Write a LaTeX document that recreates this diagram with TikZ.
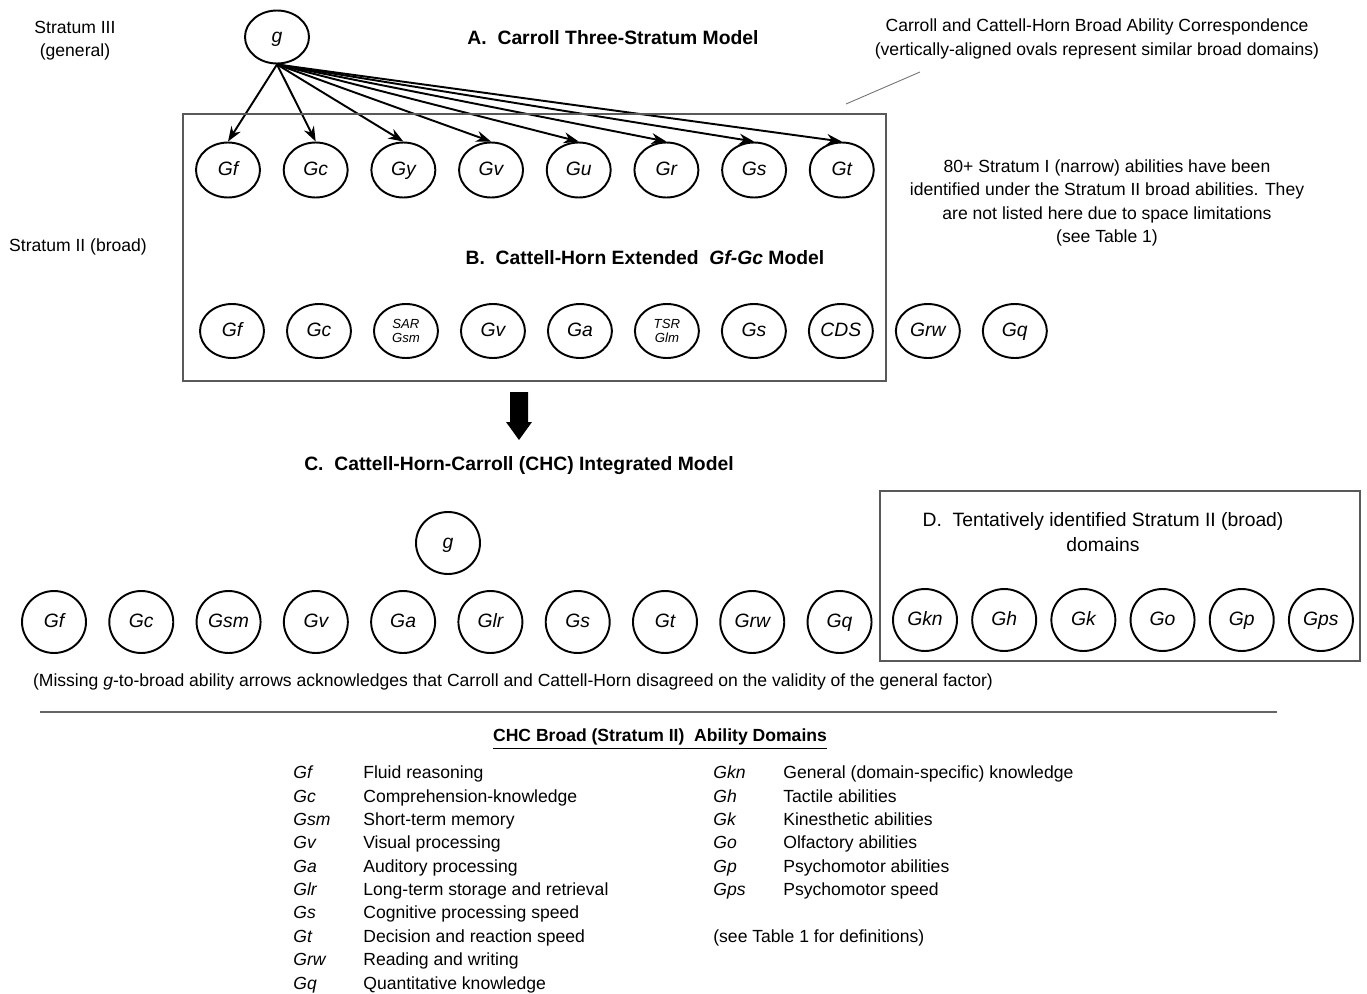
\documentclass[tikz,border=0pt]{standalone}
\usepackage{fontspec}
\setmainfont{Liberation Sans}
\usepackage{tikz}
\usetikzlibrary{arrows.meta,shapes,positioning}
\tikzstyle{ability} = [ellipse, draw, line width=1.1pt, inner sep=0pt,%
	minimum width=1.28cm, minimum height=1.1cm,%
	text height=1.6ex, text depth=0.45ex,%
	font=\itshape\fontsize{11}{13}\selectfont]
\tikzstyle{chcability} = [ability, minimum height=1.24cm]
\tikzstyle{twoline} = [align=center, text height={}, text depth={},%
	font=\itshape\fontsize{7.5}{8}\selectfont]
\tikzstyle{heading} = [font=\bfseries\fontsize{11}{13}\selectfont]
\tikzstyle{note} = [align=center, font=\fontsize{10}{13.2}\selectfont]
\tikzstyle{link} = [->, line width=1.1pt]
\tikzstyle{frame} = [draw=black!65, line width=0.8pt]

\begin{document}
\begin{tikzpicture}[x=0.02cm,y=-0.02cm,>={Stealth[length=3mm,width=2.2mm]}]
    \useasboundingbox (0,0) rectangle (1367,994);
    % side labels and titles
    \node[note] (s3) at (75,41) {Stratum III\\(general)};
    \node[note] (s2) at (78,247) {Stratum II (broad)};
    \node[heading] (titleA) at (613,38) {A.\ \ Carroll Three-Stratum Model};
    \node[note] (corr) at (1097,39) {Carroll and Cattell-Horn Broad Ability Correspondence\\(vertically-aligned ovals represent similar broad domains)};
    \node[note] (narrow) at (1107,203) {80+ Stratum I (narrow) abilities have been\\identified under the Stratum II broad abilities. They\\are not listed here due to space limitations\\(see Table 1)};
    \coordinate (corrA) at (920,72);
    \coordinate (corrB) at (846,104);
    \draw[black!55, line width=0.5pt] (corrA) -- (corrB);

    % A. Carroll
    \node[ability, minimum height=1.06cm] (g) at (277,37) {g};
    \begin{scope}[node distance=1.754cm]
    \node[ability] (ga1) at (228,170) {Gf};
    \node[ability, right of=ga1] (ga2) {Gc};
    \node[ability, right of=ga2] (ga3) {Gy};
    \node[ability, right of=ga3] (ga4) {Gv};
    \node[ability, right of=ga4] (ga5) {Gu};
    \node[ability, right of=ga5] (ga6) {Gr};
    \node[ability, right of=ga6] (ga7) {Gs};
    \node[ability, right of=ga7] (ga8) {Gt};
    \end{scope}
    \draw[link] (g.south) -- (ga1.north);
    \draw[link] (g.south) -- (ga2.north);
    \draw[link] (g.south) -- (ga3.north);
    \draw[link] (g.south) -- (ga4.north);
    \draw[link] (g.south) -- (ga5.north);
    \draw[link] (g.south) -- (ga6.north);
    \draw[link] (g.south) -- (ga7.north);
    \draw[link] (g.south) -- (ga8.north);

    % B. Cattell-Horn
    \draw[frame] (183,114) rectangle (886,381);
    \node[heading] (titleB) at (645,258) {B.\ \ Cattell-Horn Extended\ \ \textit{Gf-Gc} Model};
    \begin{scope}[node distance=1.74cm]
    \node[ability, minimum height=1.08cm] (gb1) at (232,331) {Gf};
    \node[ability, minimum height=1.08cm, right of=gb1] (gb2) {Gc};
    \node[ability, minimum height=1.08cm, right of=gb2, twoline] (gb3) {SAR\\Gsm};
    \node[ability, minimum height=1.08cm, right of=gb3] (gb4) {Gv};
    \node[ability, minimum height=1.08cm, right of=gb4] (gb5) {Ga};
    \node[ability, minimum height=1.08cm, right of=gb5, twoline] (gb6) {TSR\\Glm};
    \node[ability, minimum height=1.08cm, right of=gb6] (gb7) {Gs};
    \node[ability, minimum height=1.08cm, right of=gb7] (gb8) {CDS};
    \node[ability, minimum height=1.08cm, right of=gb8] (gb9) {Grw};
    \node[ability, minimum height=1.08cm, right of=gb9] (gb10) {Gq};
    \end{scope}

    % down arrow
    \fill (510,392) -- (528,392) -- (528,422) -- (532,422) -- (519,440) -- (506,422) -- (510,422) -- cycle;

    % C. CHC
    \node[heading] (titleC) at (519,466) {C.\ \ Cattell-Horn-Carroll (CHC) Integrated Model};
    \node[chcability] (gchc) at (448,543) {g};
    \begin{scope}[node distance=1.746cm]
    \node[chcability] (gc1) at (54,622) {Gf};
    \node[chcability, right of=gc1] (gc2) {Gc};
    \node[chcability, right of=gc2] (gc3) {Gsm};
    \node[chcability, right of=gc3] (gc4) {Gv};
    \node[chcability, right of=gc4] (gc5) {Ga};
    \node[chcability, right of=gc5] (gc6) {Glr};
    \node[chcability, right of=gc6] (gc7) {Gs};
    \node[chcability, right of=gc7] (gc8) {Gt};
    \node[chcability, right of=gc8] (gc9) {Grw};
    \node[chcability, right of=gc9] (gc10) {Gq};
    \end{scope}

    % D. tentative
    \draw[frame] (880,491) rectangle (1360,661);
    \node[note, font=\fontsize{11}{14.2}\selectfont] (titleD) at (1103,532) {D.\ \ Tentatively identified Stratum II (broad)\\domains};
    \begin{scope}[node distance=1.584cm]
    \node[chcability] (gd1) at (925,620) {Gkn};
    \node[chcability, right of=gd1] (gd2) {Gh};
    \node[chcability, right of=gd2] (gd3) {Gk};
    \node[chcability, right of=gd3] (gd4) {Go};
    \node[chcability, right of=gd4] (gd5) {Gp};
    \node[chcability, right of=gd5] (gd6) {Gps};
    \end{scope}

    \node[note] (missing) at (513,682) {(Missing \textit{g}-to-broad ability arrows acknowledges that Carroll and Cattell-Horn disagreed on the validity of the general factor)};
    \draw[black!60, line width=1pt] (40,712) -- (1277,712);

    % legend
    \node[heading, font=\bfseries\fontsize{10}{12}\selectfont] (legend) at (660,739) {\underline{CHC Broad (Stratum II)\ \ Ability Domains}};
    \node[anchor=north west, inner sep=0pt, font=\fontsize{10}{13.3}\selectfont] (legendL) at (293,762) {%
      \begin{tabular}{@{}p{1.4cm}@{}l@{}}
      \textit{Gf} & Fluid reasoning\\
      \textit{Gc} & Comprehension-knowledge\\
      \textit{Gsm} & Short-term memory\\
      \textit{Gv} & Visual processing\\
      \textit{Ga} & Auditory processing\\
      \textit{Glr} & Long-term storage and retrieval\\
      \textit{Gs} & Cognitive processing speed\\
      \textit{Gt} & Decision and reaction speed\\
      \textit{Grw} & Reading and writing\\
      \textit{Gq} & Quantitative knowledge
      \end{tabular}};
    \node[anchor=north west, inner sep=0pt, font=\fontsize{10}{13.3}\selectfont] (legendR) at (713,762) {%
      \begin{tabular}{@{}p{1.4cm}@{}l@{}}
      \textit{Gkn} & General (domain-specific) knowledge\\
      \textit{Gh} & Tactile abilities\\
      \textit{Gk} & Kinesthetic abilities\\
      \textit{Go} & Olfactory abilities\\
      \textit{Gp} & Psychomotor abilities\\
      \textit{Gps} & Psychomotor speed\\
      & \\
      \multicolumn{2}{@{}l@{}}{(see Table 1 for definitions)}
      \end{tabular}};
\end{tikzpicture}
\end{document}
